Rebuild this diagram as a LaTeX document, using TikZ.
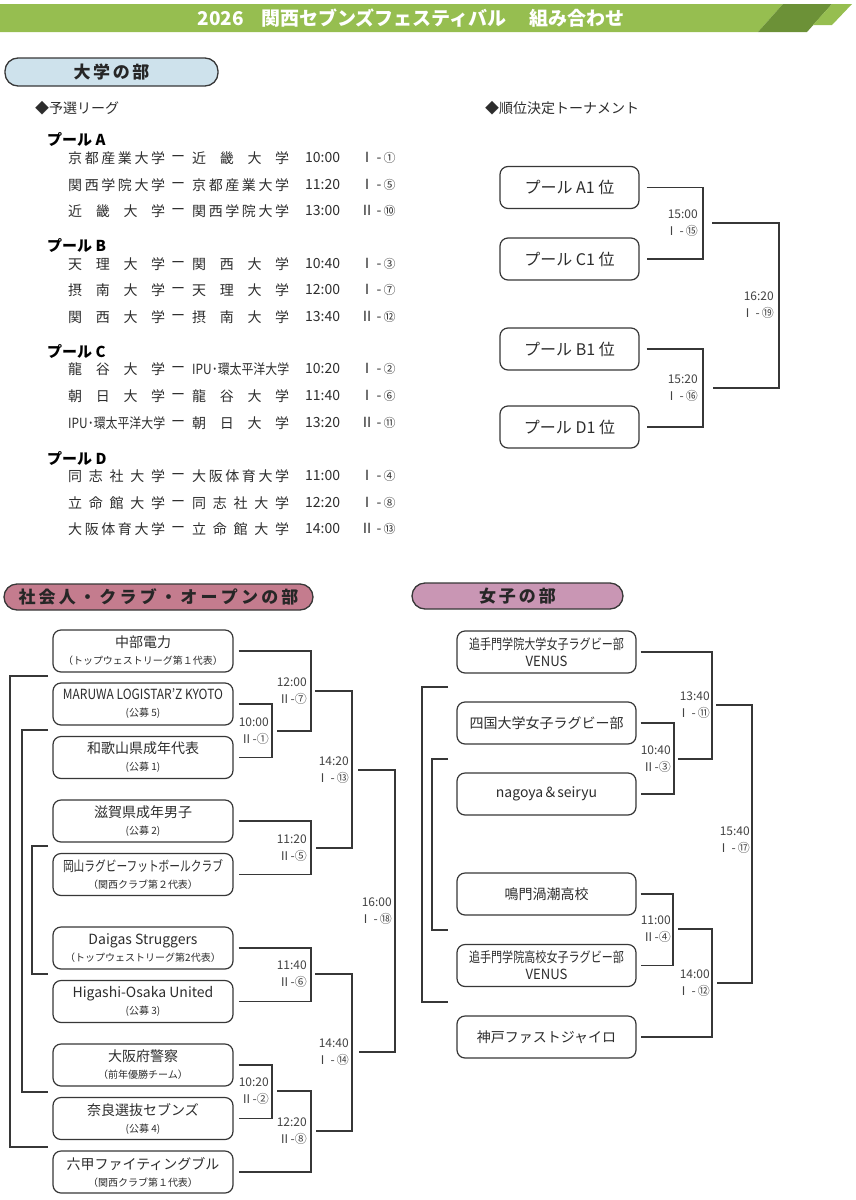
\documentclass[tikz,border=0pt]{standalone}
\usepackage{fontspec}
\setmainfont{Noto Sans CJK JP}
\usepackage{graphicx}
\definecolor{gLight}{RGB}{150,190,80}
\definecolor{gDark}{RGB}{108,145,55}
\definecolor{blueP}{RGB}{206,226,236}
\definecolor{roseP}{RGB}{196,124,142}
\definecolor{mauveP}{RGB}{201,150,180}
\definecolor{lineC}{RGB}{55,55,55}
\definecolor{txtC}{RGB}{45,45,45}
\makeatletter
\def\SP@end{\SP@end}
\def\SP@loop#1{\ifx#1\SP@end\else\hfill#1\expandafter\SP@loop\fi}
\def\SP@first#1{#1\SP@loop}
\newcommand\SP[2]{\makebox[#1][s]{\SP@first#2\SP@end}}
\makeatother
\newcommand\fitx[2]{\resizebox{#1}{\height}{#2}}
\newcommand\cI[1]{Ⅰ\,-\,{\fontsize{12}{12}\selectfont #1}}
\newcommand\cII[1]{Ⅱ\,-\,{\fontsize{12}{12}\selectfont #1}}
\newcommand\two[2]{#1\\{\fontsize{10}{12}\selectfont #2}}
\begin{document}
\begin{tikzpicture}[x=1pt,y=-1pt,
  brk/.style={draw=lineC, line width=1.3pt},
  teambox/.style={draw=lineC, line width=1.2pt, rounded corners=8pt, fill=white,
    minimum width=180pt, minimum height=42pt, inner sep=0pt, align=center,
    text=txtC, font=\fontsize{14}{17}\selectfont},
  wbox/.style={teambox, minimum width=179pt},
  tbox/.style={teambox, minimum width=139pt, font=\fontsize{16}{18}\selectfont},
  pill/.style={draw=lineC, line width=1.3pt, rounded corners=13pt, inner sep=0pt,
    text=black!85, font=\bfseries\fontsize{17}{17}\selectfont},
  hdr/.style={inner sep=0pt, anchor=west, text=txtC, font=\fontsize{14}{16}\selectfont},
  poolh/.style={inner sep=0pt, anchor=west, text=black, font=\bfseries\fontsize{15}{16}\selectfont},
  rt/.style={inner sep=0pt, text=txtC, font=\fontsize{14}{16}\selectfont},
  lbl/.style={inner sep=0pt, anchor=east, align=right, text=txtC!90, font=\fontsize{12}{16.5}\selectfont}
]
\useasboundingbox (0,0) rectangle (855,1200);

% ---------- title band ----------
\fill[gLight] (0,4) -- (783,4) -- (758,32) -- (0,32) -- cycle;
\fill[gDark] (783,4) -- (832,4) -- (807,32) -- (758,32) -- cycle;
\fill[gLight] (832,4) -- (852,4) -- (832,25) -- (813,25) -- cycle;
\node[text=white, font=\bfseries\fontsize{19}{19}\selectfont, inner sep=0pt] (title) at (411,18)
  {2026\hspace{0.9em}関西セブンズフェスティバル\hspace{1.2em}組み合わせ};

% ---------- university section ----------
\node[pill, fill=blueP, minimum width=213pt, minimum height=28pt] (p1) at (111.5,72) {\SP{76pt}{大学の部}};
\node[hdr] (h1) at (35,108) {◆予選リーグ};
\node[hdr] (h2) at (485,108) {◆順位決定トーナメント};

\newcommand\prow[6]{%
 \node[rt, anchor=west] (#1a) at (68,#2) {#3};
 \node[rt] (#1d) at (178,#2) {ー};
 \node[rt, anchor=west] (#1b) at (192,#2) {#4};
 \node[rt, anchor=west] (#1t) at (305,#2) {#5};
 \node[rt, anchor=west] (#1c) at (360,#2) {#6};
}

\node[poolh] (pa) at (47,140) {プール A};
\prow{ra1}{158}{\SP{97pt}{京都産業大学}}{\SP{97pt}{近畿大学}}{10:00}{\cI{①}}
\prow{ra2}{185}{\SP{97pt}{関西学院大学}}{\SP{97pt}{京都産業大学}}{11:20}{\cI{⑤}}
\prow{ra3}{211}{\SP{97pt}{近畿大学}}{\SP{97pt}{関西学院大学}}{13:00}{\cII{⑩}}

\node[poolh] (pb) at (47,246) {プール B};
\prow{rb1}{264}{\SP{97pt}{天理大学}}{\SP{97pt}{関西大学}}{10:40}{\cI{③}}
\prow{rb2}{290}{\SP{97pt}{摂南大学}}{\SP{97pt}{天理大学}}{12:00}{\cI{⑦}}
\prow{rb3}{317}{\SP{97pt}{関西大学}}{\SP{97pt}{摂南大学}}{13:40}{\cII{⑫}}

\node[poolh] (pc) at (47,352) {プール C};
\prow{rc1}{369}{\SP{97pt}{龍谷大学}}{\fitx{97pt}{IPU･環太平洋大学}}{10:20}{\cI{②}}
\prow{rc2}{396}{\SP{97pt}{朝日大学}}{\SP{97pt}{龍谷大学}}{11:40}{\cI{⑥}}
\prow{rc3}{423}{\fitx{97pt}{IPU･環太平洋大学}}{\SP{97pt}{朝日大学}}{13:20}{\cII{⑪}}

\node[poolh] (pd) at (47,458) {プール D};
\prow{rd1}{476}{\SP{97pt}{同志社大学}}{\SP{97pt}{大阪体育大学}}{11:00}{\cI{④}}
\prow{rd2}{503}{\SP{97pt}{立命館大学}}{\SP{97pt}{同志社大学}}{12:20}{\cI{⑧}}
\prow{rd3}{529}{\SP{97pt}{大阪体育大学}}{\SP{97pt}{立命館大学}}{14:00}{\cII{⑬}}

% ranking tournament
\node[tbox] (t1) at (569.5,187.5) {プール A1 位};
\node[tbox] (t2) at (569.5,259) {プール C1 位};
\node[tbox] (t3) at (569.5,349) {プール B1 位};
\node[tbox] (t4) at (569.5,427) {プール D1 位};
\coordinate (tj1) at (703,223);
\coordinate (tj2) at (703,388);
\coordinate (tj3) at (779,305);
\draw[brk] ([xshift=7pt]t1.east) -| (tj1) |- ([xshift=7pt]t2.east);
\draw[brk] ([xshift=7pt]t3.east) -| (tj2) |- ([xshift=7pt]t4.east);
\draw[brk] ([xshift=9pt]tj1) -| (tj3) |- ([xshift=10pt]tj2);
\node[lbl] (tl1) at ([xshift=-5pt]tj1) {15:00\\\cI{⑮}};
\node[lbl] (tl2) at ([xshift=-5pt]tj2) {15:20\\\cI{⑯}};
\node[lbl] (tl3) at ([xshift=-5pt]tj3) {16:20\\\cI{⑲}};

% ---------- social / club / open ----------
\node[pill, fill=roseP, minimum width=309pt, minimum height=26pt] (p2) at (158.5,597)
  {\SP{280pt}{社会人・クラブ・オープンの部}};
\node[teambox] (s1) at (143,651) {\two{中部電力}{（トップウェストリーグ第１代表）}};
\node[teambox] (s2) at (143,704) {\two{\fitx{160pt}{MARUWA LOGISTAR’Z KYOTO}}{(公募 5)}};
\node[teambox] (s3) at (143,757.5) {\two{和歌山県成年代表}{(公募 1)}};
\node[teambox] (s4) at (143,821) {\two{滋賀県成年男子}{(公募 2)}};
\node[teambox] (s5) at (143,874.5) {\two{\fitx{160pt}{岡山ラグビーフットボールクラブ}}{（関西クラブ第２代表）}};
\node[teambox] (s6) at (143,948) {\two{Daigas Struggers}{（トップウェストリーグ第2代表）}};
\node[teambox] (s7) at (143,1001.5) {\two{Higashi-Osaka United}{(公募 3)}};
\node[teambox] (s8) at (143,1065) {\two{大阪府警察}{（前年優勝チーム）}};
\node[teambox] (s9) at (143,1118.5) {\two{奈良選抜セブンズ}{(公募 4)}};
\node[teambox] (s10) at (143,1172) {\two{六甲ファイティングブル}{（関西クラブ第１代表）}};

\coordinate (sj1) at (272,731);
\coordinate (sj2) at (311,691);
\coordinate (sj3) at (311,848);
\coordinate (sj4) at (352,770);
\coordinate (sj5) at (311,974);
\coordinate (sj6) at (272,1091);
\coordinate (sj7) at (311,1131);
\coordinate (sj8) at (352,1052);
\coordinate (sj9) at (395,911);
\draw[brk] ([xshift=5pt]s2.east) -| (sj1) |- ([xshift=5pt]s3.east);
\draw[brk] ([xshift=5pt]s1.east) -| (sj2) |- ([xshift=5pt]sj1);
\draw[brk] ([xshift=5pt]s4.east) -| (sj3) |- ([xshift=5pt]s5.east);
\draw[brk] ([xshift=4pt]sj2) -| (sj4) |- ([xshift=5pt]sj3);
\draw[brk] ([xshift=5pt]s6.east) -| (sj5) |- ([xshift=5pt]s7.east);
\draw[brk] ([xshift=5pt]s8.east) -| (sj6) |- ([xshift=5pt]s9.east);
\draw[brk] ([xshift=5pt]sj6) -| (sj7) |- ([xshift=5pt]s10.east);
\draw[brk] ([xshift=4pt]sj5) -| (sj8) |- ([xshift=5pt]sj7);
\draw[brk] ([xshift=6pt]sj4) -| (sj9) |- ([xshift=7pt]sj8);
\node[lbl] (sl1) at ([xshift=-3pt]sj1) {10:00\\Ⅱ-{\fontsize{12}{12}\selectfont ①}};
\node[lbl] (sl2) at ([xshift=-4pt]sj2) {12:00\\Ⅱ-{\fontsize{12}{12}\selectfont ⑦}};
\node[lbl] (sl3) at ([xshift=-4pt]sj3) {11:20\\Ⅱ-{\fontsize{12}{12}\selectfont ⑤}};
\node[lbl] (sl4) at ([xshift=-3pt]sj4) {14:20\\\cI{⑬}};
\node[lbl] (sl5) at ([xshift=-4pt]sj5) {11:40\\Ⅱ-{\fontsize{12}{12}\selectfont ⑥}};
\node[lbl] (sl6) at ([xshift=-3pt]sj6) {10:20\\Ⅱ-{\fontsize{12}{12}\selectfont ②}};
\node[lbl] (sl7) at ([xshift=-4pt]sj7) {12:20\\Ⅱ-{\fontsize{12}{12}\selectfont ⑧}};
\node[lbl] (sl8) at ([xshift=-3pt]sj8) {14:40\\\cI{⑭}};
\node[lbl] (sl9) at ([xshift=-3pt]sj9) {16:00\\\cI{⑱}};

\coordinate (sa1) at (48,676);  \coordinate (sa2) at (48,1147);
\coordinate (sb1) at (48,730);  \coordinate (sb2) at (48,1092);
\coordinate (sc1) at (48,846);  \coordinate (sc2) at (48,974);
\draw[brk] (sa1) -- ++(-38,0) |- (sa2);
\draw[brk] (sb1) -- ++(-26,0) |- (sb2);
\draw[brk] (sc1) -- ++(-16,0) |- (sc2);

% ---------- women ----------
\node[pill, fill=mauveP, minimum width=211pt, minimum height=26pt] (p3) at (517.5,596) {\SP{77pt}{女子の部}};
\node[wbox] (w1) at (546.5,652) {\fitx{155pt}{追手門学院大学女子ラグビー部}\\\fitx{42pt}{VENUS}};
\node[wbox] (w2) at (546.5,723) {四国大学女子ラグビー部};
\node[wbox] (w3) at (546.5,794) {nagoya＆seiryu};
\node[wbox] (w4) at (546.5,894) {鳴門渦潮高校};
\node[wbox] (w5) at (546.5,965.5) {\fitx{155pt}{追手門学院高校女子ラグビー部}\\\fitx{42pt}{VENUS}};
\node[wbox] (w6) at (546.5,1037) {神戸ファストジャイロ};

\coordinate (wj1) at (674,759);
\coordinate (wj2) at (712,705);
\coordinate (wj3) at (673,929);
\coordinate (wj4) at (712,983);
\coordinate (wj5) at (752,844);
\draw[brk] ([xshift=4pt]w2.east) -| (wj1) |- ([xshift=4pt]w3.east);
\draw[brk] ([xshift=4pt]w1.east) -| (wj2) |- ([xshift=4pt]wj1);
\draw[brk] ([xshift=4pt]w4.east) -| (wj3) |- ([xshift=4pt]w5.east);
\draw[brk] ([xshift=5pt]wj3) -| (wj4) |- ([xshift=4pt]w6.east);
\draw[brk] ([xshift=4pt]wj2) -| (wj5) |- ([xshift=5pt]wj4);
\node[lbl] (wl1) at ([xshift=-3pt]wj1) {10:40\\Ⅱ-{\fontsize{12}{12}\selectfont ③}};
\node[lbl] (wl2) at ([xshift=-2pt]wj2) {13:40\\\cI{⑪}};
\node[lbl] (wl3) at ([xshift=-2pt]wj3) {11:00\\Ⅱ-{\fontsize{12}{12}\selectfont ④}};
\node[lbl] (wl4) at ([xshift=-2pt]wj4) {14:00\\\cI{⑫}};
\node[lbl] (wl5) at ([xshift=-2pt,yshift=4pt]wj5) {15:40\\\cI{⑰}};

\coordinate (wa1) at (448,687);  \coordinate (wa2) at (448,1002);
\coordinate (wb1) at (448,759);  \coordinate (wb2) at (448,930);
\draw[brk] (wa1) -- ++(-26,0) |- (wa2);
\draw[brk] (wb1) -- ++(-16,0) |- (wb2);
\end{tikzpicture}
\end{document}
